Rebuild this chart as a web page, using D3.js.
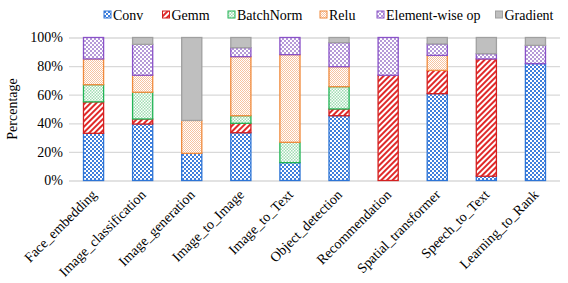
<!DOCTYPE html>
<html>
<head>
<meta charset="utf-8">
<script src="https://cdn.jsdelivr.net/npm/d3@7"></script>
<style>
  body { margin: 0; background: #fff; }
  text { font-family: "Liberation Serif", "Times New Roman", serif; fill: #000; }
</style>
</head>
<body>
<svg></svg>
<script>
/**
 * Data.
 */
const categories = ['Face_embedding', 'Image_classification', 'Image_generation', 'Image_to_Image',
    'Image_to_Text', 'Object_detection', 'Recommendation', 'Spatial_transformer', 'Speech_to_Text', 'Learning_to_Rank'];
const seriesNames = ['Conv', 'Gemm', 'BatchNorm', 'Relu', 'Element-wise op', 'Gradient'];
const conv      = [33, 39.5, 19, 33.4, 12.5, 45.3, 0, 60.7, 3, 81.7];
const gemm      = [22, 3.5, 0, 6.6, 0, 4.7, 73.6, 16.3, 82, 0];
const batchNorm = [12, 18.7, 0, 5.3, 14.2, 15.6, 0, 0, 0, 0];
const relu      = [18, 11.9, 23, 41.3, 61.3, 14, 0, 10.5, 0, 0];
const elemwise  = [15, 21.6, 0, 6.3, 12, 16.8, 26.4, 8, 3.7, 12.8];
const gradient  = [0, 4.8, 58, 7.1, 0, 3.6, 0, 4.5, 11.3, 5.5];
const yTicks = [0, 20, 40, 60, 80, 100];

/**
 * Set stuff up.
 */
const width = 568, height = 283;
const margin = { top: 37.5, right: 8, bottom: 102.5, left: 69 };
const svg = d3.select('svg').attr('width', width).attr('height', height);
const fontSize = '14px';

const series = [conv, gemm, batchNorm, relu, elemwise, gradient];
const table = categories.map((c, i) => {
    const row = { cat: c };
    seriesNames.forEach((s, j) => row[s] = series[j][i]);
    return row;
});
const stacked = d3.stack().keys(seriesNames)(table);

const x = d3.scaleBand().domain(categories).range([margin.left, width - margin.right]).paddingInner(0.59).paddingOuter(0.295);
const y = d3.scaleLinear().domain([0, 100]).range([height - margin.bottom, margin.top]);

/**
 * Patterns.
 */
const defs = svg.append('defs');
function checker(id, color, size) {
    const p = defs.append('pattern').attr('id', id).attr('patternUnits', 'userSpaceOnUse')
        .attr('width', size * 2).attr('height', size * 2);
    p.append('rect').attr('width', size * 2).attr('height', size * 2).attr('fill', '#fff');
    p.append('rect').attr('width', size).attr('height', size).attr('fill', color);
    p.append('rect').attr('x', size).attr('y', size).attr('width', size).attr('height', size).attr('fill', color);
}
checker('p-conv', '#3f7fdc', 2);
checker('p-elem', '#b59ad8', 2);
checker('p-bn', '#9fdcb2', 1.5);
checker('p-relu', '#f7c3a0', 1);
const stripes = defs.append('pattern').attr('id', 'p-gemm').attr('patternUnits', 'userSpaceOnUse')
    .attr('width', 4).attr('height', 4).attr('patternTransform', 'rotate(45)');
stripes.append('rect').attr('width', 4).attr('height', 4).attr('fill', '#fff');
stripes.append('rect').attr('width', 2).attr('height', 4).attr('fill', '#e02a2a');

const fills = {
    'Conv': 'url(#p-conv)', 'Gemm': 'url(#p-gemm)', 'BatchNorm': 'url(#p-bn)',
    'Relu': 'url(#p-relu)', 'Element-wise op': 'url(#p-elem)', 'Gradient': '#bfbfbf'
};
const strokes = {
    'Conv': '#2e75d6', 'Gemm': '#d42020', 'BatchNorm': '#22b455',
    'Relu': '#f08a3c', 'Element-wise op': '#8a52c8', 'Gradient': '#a0a0a0'
};

/**
 * Grid and axes.
 */
svg.append('g')
    .attr('transform', `translate(${margin.left},0)`)
    .call(d3.axisLeft(y).tickValues(yTicks).tickSize(-(width - margin.left - margin.right)).tickFormat(d => d + '%'))
    .call(g => g.select('.domain').remove())
    .call(g => g.selectAll('line').attr('stroke', '#d9d9d9').attr('stroke-width', 1.3))
    .call(g => g.selectAll('text').attr('x', -6).style('font-size', fontSize).style('font-family', '"Liberation Serif", serif'));

svg.append('text')
    .attr('transform', `translate(17,${(margin.top + height - margin.bottom) / 2}) rotate(-90)`)
    .attr('text-anchor', 'middle')
    .style('font-size', fontSize)
    .text('Percentage');

/**
 * Bars.
 */
svg.append('g').selectAll('g')
    .data(stacked)
    .join('g')
    .attr('fill', d => fills[d.key])
    .attr('stroke', d => strokes[d.key])
    .attr('stroke-width', 1.3)
    .selectAll('rect')
    .data(d => d.filter(v => v[1] - v[0] > 0))
    .join('rect')
    .attr('x', d => x(d.data.cat))
    .attr('width', x.bandwidth())
    .attr('y', d => y(d[1]))
    .attr('height', d => y(d[0]) - y(d[1]));

/**
 * X labels.
 */
svg.append('g').selectAll('text')
    .data(categories)
    .join('text')
    .attr('transform', d => `translate(${x(d) + x.bandwidth() / 2 + 4},${height - margin.bottom + 15}) rotate(-45)`)
    .attr('text-anchor', 'end')
    .style('font-size', fontSize)
    .text(d => d);

/**
 * Legend.
 */
const legendX = [104, 162.5, 228, 320, 377, 495.5];
const legend = svg.append('g').selectAll('g')
    .data(seriesNames)
    .join('g')
    .attr('transform', (d, i) => `translate(${legendX[i]},15)`);
legend.append('rect')
    .attr('x', 0).attr('y', -4).attr('width', 7).attr('height', 7)
    .attr('fill', d => fills[d]).attr('stroke', d => strokes[d]).attr('stroke-width', 1);
legend.append('text')
    .attr('x', 9).attr('y', 5)
    .style('font-size', fontSize)
    .text(d => d);
</script>
</body>
</html>
